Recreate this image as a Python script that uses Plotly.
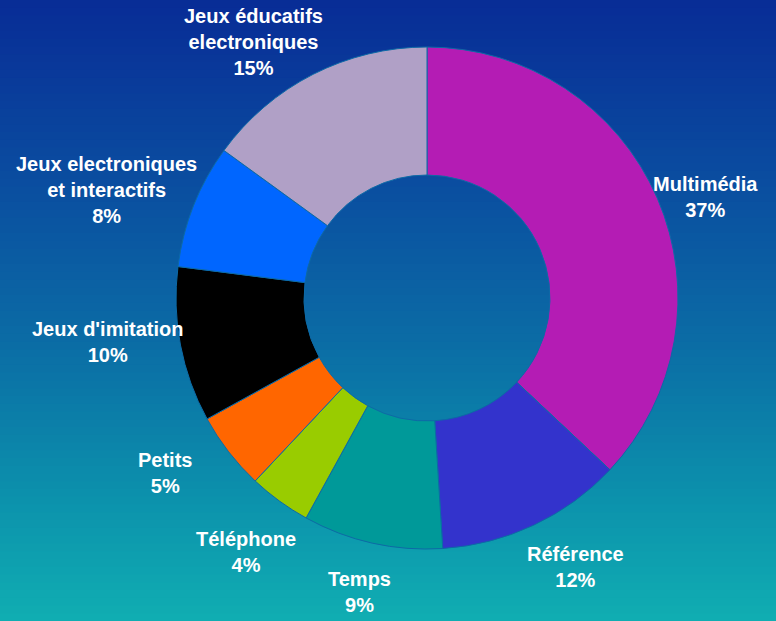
import math
import plotly.graph_objects as go

labels = ["Multimédia", "Référence", "Temps", "Téléphone", "Petits",
          "Jeux d'imitation", "Jeux electroniques<br>et interactifs",
          "Jeux éducatifs<br>electroniques"]
values = [37, 12, 9, 4, 5, 10, 8, 15]
colors = ["#B41CB4", "#3333CC", "#009999", "#99CC00", "#FF6600",
          "#000000", "#0066FF", "#B0A0C6"]
# label nudges in screen pixels (right, down) — style only
nudges = [(-12, 1), (-11, 10), (-11, 17), (22, 20), (-30, 17), (10, -4), (11, -13), (15, 12)]

W, H = 776, 621
CX, CY, R = 427, 298, 251
fig = go.Figure()

# vertical background gradient
stops = [(0.0, (8, 44, 150)), (0.3, (10, 78, 160)), (0.55, (11, 108, 165)),
         (0.8, (12, 145, 172)), (1.0, (16, 174, 178))]
def col(t):
    for (t0, c0), (t1, c1) in zip(stops[:-1], stops[1:]):
        if t <= t1:
            f = (t - t0) / (t1 - t0)
            return "rgb(%d,%d,%d)" % tuple(round(a + (b - a) * f) for a, b in zip(c0, c1))
    return "rgb(%d,%d,%d)" % stops[-1][1]
N = 80
shapes = []
for i in range(N):
    t = (i + 0.5) / N
    shapes.append(dict(type="rect", xref="paper", yref="paper", x0=0, x1=1,
                       y1=1 - i / N, y0=max(0, 1 - (i + 1) / N - 0.002),
                       fillcolor=col(t), line=dict(width=0), layer="below"))

fig.add_trace(go.Pie(
    labels=labels, values=values, sort=False, direction="clockwise", rotation=0,
    hole=0.49, textinfo="none",
    marker=dict(colors=colors, line=dict(color="#0d6aa6", width=1)),
    domain=dict(x=[(CX - R) / W, (CX + R) / W], y=[(H - CY - R) / H, (H - CY + R) / H]),
    showlegend=False, hoverinfo="label+percent",
))

# outside labels placed at each slice's mid-angle
total = sum(values)
cum = 0
annotations = []
for lab, v, (nx, ny) in zip(labels, values, nudges):
    mid = (cum + v / 2) / total * 2 * math.pi
    cum += v
    s, c = math.sin(mid), math.cos(mid)
    rr = R + 6
    px, py = CX + rr * s, CY - rr * c
    xa = "left" if s > 0.3 else ("right" if s < -0.3 else "center")
    if abs(c) < 0.7:
        ya = "middle"
    else:
        ya = "bottom" if c > 0 else "top"
    annotations.append(dict(
        x=px / W, y=1 - py / H, xref="paper", yref="paper", showarrow=False,
        xanchor=xa, yanchor=ya, align="center", xshift=nx, yshift=-ny,
        text="<b>%s<br>%d%%</b>" % (lab, round(v / total * 100)),
        font=dict(family="Arial, Liberation Sans", size=20, color="white")))

fig.update_layout(width=W, height=H, margin=dict(l=0, r=0, t=0, b=0, autoexpand=False),
                  paper_bgcolor="#0b5ea5", plot_bgcolor="rgba(0,0,0,0)",
                  shapes=shapes, annotations=annotations)
fig.write_html("out.html", config={"displayModeBar": False},
               post_script="document.body.style.margin='0';document.body.style.overflow='hidden';")
